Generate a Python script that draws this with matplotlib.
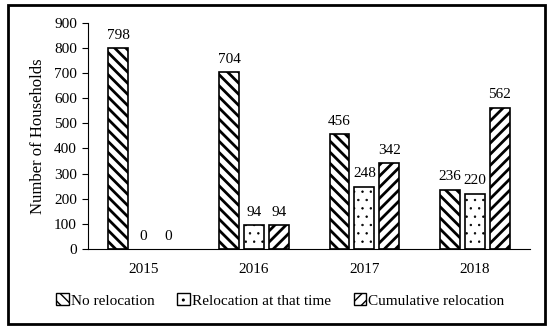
import numpy as np
import matplotlib.pyplot as plt
from matplotlib.patches import Rectangle

years = ['2015', '2016', '2017', '2018']
no_reloc = [798, 704, 456, 236]
reloc_now = [0, 94, 248, 220]
cumulative = [0, 94, 342, 562]

# name, values, hatch, hatch line width
series = [
    ('No relocation', no_reloc, '\\\\\\', 2.0),
    ('Relocation at that time', reloc_now, '..', 0.5),
    ('Cumulative relocation', cumulative, '///', 2.0),
]

plt.rcParams['font.family'] = ['Liberation Serif', 'DejaVu Serif']
plt.rcParams['font.size'] = 11

fig = plt.figure(figsize=(5.5, 3.32), dpi=100)
ax = fig.add_axes([0.16, 0.25, 0.804, 0.682])

x = np.arange(len(years))
w = 0.18
step = 0.225
for i, (name, vals, hatch, hlw) in enumerate(series):
    pos = x + (i - 1) * step
    with plt.rc_context({'hatch.linewidth': hlw}):
        bars = ax.bar(pos, vals, w, facecolor='white', edgecolor='black',
                      hatch=hatch, linewidth=1.2, label=name)
        for b, v in zip(bars, vals):
            if hasattr(b, 'set_hatch_linewidth'):
                b.set_hatch_linewidth(hlw)
            if v == 0:
                b.set_linewidth(0)
    for p, v in zip(pos, vals):
        ax.text(p, v + 25, str(v), ha='center', va='bottom', fontsize=11)

ax.set_xlim(-0.5, 3.5)
ax.set_ylim(0, 900)
ax.set_yticks(range(0, 901, 100))
ax.set_xticks(x)
ax.set_xticklabels(years)
ax.tick_params(axis='x', length=0, pad=10)
ax.tick_params(axis='y', direction='out', length=4, pad=4)
ax.spines['top'].set_visible(False)
ax.spines['right'].set_visible(False)
ax.set_ylabel('Number of Households', fontsize=12, labelpad=6)

leg = fig.legend(loc='center', bbox_to_anchor=(0.51, 0.095), ncol=3,
                 frameon=False, handlelength=0.8, handleheight=0.8,
                 handletextpad=0.15, columnspacing=1.5, fontsize=11)
for h in leg.legend_handles:
    h.set_linewidth(1.0)

fig.patches.append(Rectangle((0.0145, 0.024), 0.976, 0.961, transform=fig.transFigure,
                             fill=False, edgecolor='black', linewidth=2))

fig.savefig('out.png', dpi=100)
